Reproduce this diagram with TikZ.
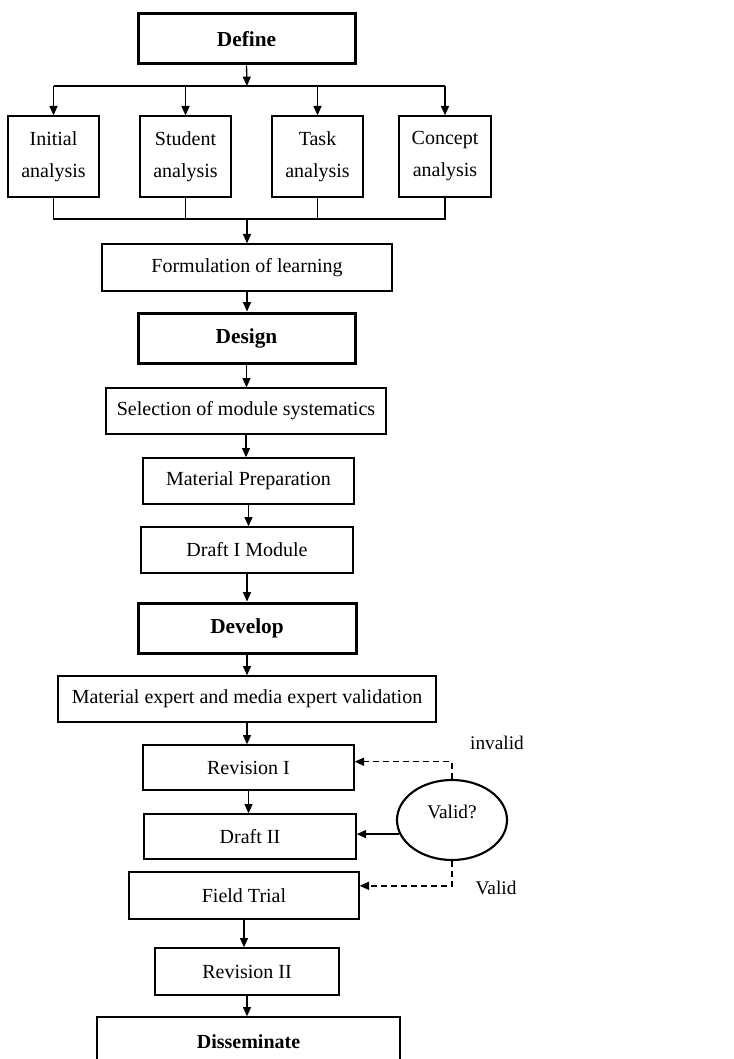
\documentclass[tikz,border=0pt]{standalone}
\usepackage{fontspec}
\setmainfont{Liberation Serif}
\usetikzlibrary{arrows.meta,shapes.geometric,calc}

\tikzset{every picture/.style={line width=1pt}}
\tikzset{
  box/.style={draw, rectangle, align=center, inner sep=0pt, font=\fontsize{15}{24}\selectfont},
  phase/.style={box, line width=2.25pt, font=\fontsize{16}{18}\selectfont\bfseries},
  arr/.style={-{Triangle[length=7pt,width=6pt]}},
  dashline/.style={dash pattern=on 4.5pt off 3pt},
  lbl/.style={inner sep=0pt, font=\fontsize{14.5}{16}\selectfont},
}

\begin{document}
\begin{tikzpicture}[x=0.75pt,y=0.75pt,yscale=-1,xscale=1]
\useasboundingbox (0,0) rectangle (734,1059);

% Define
\node[phase, minimum width=162.75pt, minimum height=37.5pt] (define) at (246.5,39) {Define};
\node[box, minimum width=68.25pt, minimum height=60.75pt] (initial) at (53.5,156.5) {Initial\\analysis};
\node[box, minimum width=68.25pt, minimum height=60.75pt] (student) at (185.5,156.5) {Student\\analysis};
\node[box, minimum width=68.25pt, minimum height=60.75pt] (task) at (317.5,156.5) {Task\\analysis};
\node[box, minimum width=69pt, minimum height=60.75pt] (concept) at (445,156.5) {Concept\\analysis};
\node[box, minimum width=217.5pt, minimum height=35.25pt] (formulation) at (247,267.5) {Formulation of learning};
\coordinate (bustop) at (247,86);
\coordinate (busbot) at (247,219);

% Design
\node[phase, minimum width=162.75pt, minimum height=37.5pt] (design) at (246.5,338) {Design};
\node[box, minimum width=210pt, minimum height=34.5pt] (selection) at (246,411) {Selection of module systematics};
\node[box, minimum width=158.25pt, minimum height=34.5pt] (matprep) at (248.5,481) {Material Preparation};
\node[box, minimum width=159pt, minimum height=34.5pt] (draftone) at (247,550) {Draft I Module};

% Develop
\node[phase, minimum width=163.5pt, minimum height=37.5pt] (develop) at (247,628) {Develop};
\node[box, minimum width=283.5pt, minimum height=34.5pt] (validation) at (247,699) {Material expert and media expert validation};
\node[box, minimum width=158.25pt, minimum height=33.75pt] (revone) at (248.5,767.5) {Revision I};
\node[box, minimum width=159pt, minimum height=33.75pt] (drafttwo) at (250,836.5) {Draft II};
\node[box, minimum width=172.5pt, minimum height=35.25pt] (field) at (244,895.5) {Field Trial};
\node[box, minimum width=138pt, minimum height=35.25pt] (revtwo) at (247,971.5) {Revision II};
\node[draw, ellipse, line width=1.6pt, inner sep=0pt, minimum width=82.5pt, minimum height=60pt, font=\fontsize{14.5}{16}\selectfont] (valid) at (452,820) {\raisebox{5pt}[0.7em][0.2em]{Valid?}};
\node[lbl] (invalidlbl) at (497,743) {invalid};
\node[lbl] (validlbl) at (496,888) {Valid};

% Disseminate
\node[box, minimum width=227.25pt, minimum height=37.5pt, font=\fontsize{15}{18}\selectfont\bfseries] (dissem) at (248.5,1042) {Disseminate};

%Straight Lines
\draw[arr] (define.south) -- (bustop);
\draw (initial.north |- bustop) -- (concept.north |- bustop);
\draw[arr] (initial.north |- bustop) -- (initial.north);
\draw[arr] (student.north |- bustop) -- (student.north);
\draw[arr] (task.north |- bustop) -- (task.north);
\draw[arr] (concept.north |- bustop) -- (concept.north);
\draw (initial.south) -- (initial.south |- busbot) -- (concept.south |- busbot) -- (concept.south);
\draw (student.south) -- (student.south |- busbot);
\draw (task.south) -- (task.south |- busbot);
\draw[arr] (busbot) -- (busbot |- formulation.north);
\draw[arr] (formulation.south) -- (formulation.south |- design.north);
\draw[arr] (design.south) -- (design.south |- selection.north);
\draw[arr] (selection.south) -- (selection.south |- matprep.north);
\draw[arr] (matprep.south) -- (matprep.south |- draftone.north);
\draw[arr] (draftone.south) -- (draftone.south |- develop.north);
\draw[arr] (develop.south) -- (develop.south |- validation.north);
\draw[arr] (validation.south) -- (validation.south |- revone.north);
\draw[arr] (revone.south) -- (revone.south |- drafttwo.north);
\draw[arr] (field.south) -- (field.south |- revtwo.north);
\draw[arr] (revtwo.south) -- (revtwo.south |- dissem.north);

%Valid? loop
\draw[arr, dashline] (valid.north) |- ($(revone.east)!0.25!(revone.north east)$);
\draw[arr] (valid.195) -- (valid.195 -| drafttwo.east);
\draw[arr, dashline] (valid.south) |- ($(field.east)!0.4!(field.north east)$);

\end{tikzpicture}
\end{document}
